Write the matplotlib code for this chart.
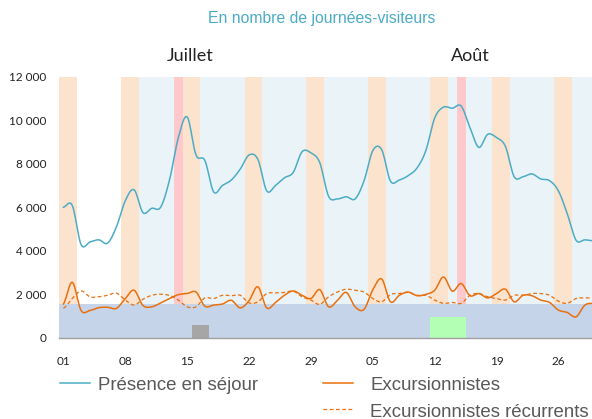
import numpy as np
import matplotlib
matplotlib.use("Agg")
import matplotlib.pyplot as plt
from matplotlib.lines import Line2D
import matplotlib.transforms as mtransforms

# Daily values, 1 July (index 0) -> 30 August 2023
presence = [6000, 6080, 4280, 4400, 4500, 4350, 5100, 6300, 6800, 5750,
            5950, 6000, 7250, 9200, 10150, 8400, 8150, 6700, 7000, 7250,
            7750, 8400, 8200, 6750, 7000, 7350, 7600, 8550, 8500, 8050,
            6500, 6380, 6480, 6380, 7200, 8600, 8650, 7200, 7250, 7450,
            7800, 8600, 10100, 10600, 10550, 10650, 9650, 8750, 9350, 9200,
            8800, 7400, 7400, 7530, 7300, 7220, 6750, 5700, 4480, 4500, 4450]
excursionnistes = [1550, 2550, 1250, 1250, 1380, 1400, 1350, 1800, 2180, 1480,
                   1420, 1600, 1800, 1980, 2030, 2100, 1450, 1500, 1550, 1720,
                   1370, 1700, 2340, 1370, 1620, 1950, 2150, 1950, 1800, 2210,
                   1420, 1720, 2080, 1420, 1300, 2200, 2700, 1650, 1950, 2100,
                   1930, 1990, 2180, 2790, 2140, 2490, 1930, 2030, 1830, 2030,
                   2230, 1650, 1950, 1930, 1730, 1620, 1270, 1160, 960, 1500, 1580]
recurrents = [1350, 1800, 2150, 1880, 1880, 1950, 2050, 1730, 1500, 1770,
              1950, 2000, 1940, 1730, 1420, 1420, 1830, 1800, 1950, 1930,
              1950, 1600, 1650, 2030, 2060, 2080, 2140, 1880, 1730, 1530,
              1880, 2100, 2230, 2180, 2100, 1800, 1650, 1990, 2030, 2080,
              1950, 1950, 1730, 1580, 1620, 1580, 1950, 2030, 1880, 1800,
              1730, 1950, 1950, 2030, 2030, 1950, 1680, 1580, 1800, 1830, 1830]

weekend_days = [0, 1, 7, 8, 14, 15, 21, 22, 28, 29, 35, 36, 42, 43, 49, 50, 56, 57]
holiday_days = [13, 45]           # 14 juillet, 15 août
school_start = 7                  # vacances scolaires from 8 July
capacity = 1570
gray_box = (15, 16, 570)          # first day, last day, height
green_box = (42, 45, 935)

tick_days = [0, 7, 14, 21, 28, 35, 42, 49, 56]
tick_labels = ["01", "08", "15", "22", "29", "05", "12", "19", "26"]

TEAL = "#4bacc6"
ORANGE = "#e8700f"


def catmull_rom(y, n=12):
    # smooth line like the office "smoothed line" option
    y = np.asarray(y, dtype=float)
    p = np.concatenate([[y[0]], y, [y[-1]]])
    xs, ys = [], []
    t = np.linspace(0, 1, n, endpoint=False)
    for i in range(len(y) - 1):
        p0, p1, p2, p3 = p[i], p[i + 1], p[i + 2], p[i + 3]
        seg = 0.5 * ((2 * p1) + (-p0 + p2) * t + (2 * p0 - 5 * p1 + 4 * p2 - p3) * t ** 2
                     + (-p0 + 3 * p1 - 3 * p2 + p3) * t ** 3)
        xs.append(i + t)
        ys.append(seg)
    xs.append([len(y) - 1])
    ys.append([y[-1]])
    return np.concatenate(xs), np.concatenate(ys)


fig = plt.figure(figsize=(5.92, 4.19), dpi=100)
ax = fig.add_axes([59 / 592, 81.3 / 419, 1 - 59 / 592, 261 / 419])

n_days = len(presence)
ax.axvspan(school_start - 0.5, n_days + 1, color="#eaf4f8", lw=0, zorder=0)
for d in weekend_days:
    ax.axvspan(d - 0.5, d + 0.5, color="#fce3cd", lw=0, zorder=0.5)
for d in holiday_days:
    ax.axvspan(d - 0.5, d + 0.5, color="#ffc8cb", lw=0, zorder=0.6)

ax.fill_between([-0.5, n_days + 1], 0, capacity, color="#c5d4e8", lw=0, zorder=1)
ax.bar((gray_box[0] + gray_box[1]) / 2, gray_box[2], width=gray_box[1] - gray_box[0] + 1,
       color="#a6a6a6", zorder=2)
ax.bar((green_box[0] + green_box[1]) / 2, green_box[2], width=green_box[1] - green_box[0] + 1,
       color="#b3ffb3", zorder=2)

x, y = catmull_rom(presence)
ax.plot(x, y, color=TEAL, lw=1.1, zorder=4)
x, y = catmull_rom(excursionnistes)
ax.plot(x, y, color=ORANGE, lw=1.1, zorder=4)
x, y = catmull_rom(recurrents)
ax.plot(x, y, color=ORANGE, lw=0.9, ls=(0, (3, 2)), zorder=3)

ax.set_xlim(-0.5, 59.8)
ax.set_ylim(0, 12000)
ax.set_yticks(range(0, 12001, 2000))
ax.set_yticklabels([f"{v:,}".replace(",", " ") for v in range(0, 12001, 2000)])
ax.set_xticks(tick_days)
ax.set_xticklabels(tick_labels)
ax.tick_params(length=0, labelsize=8.5, colors="#222222")
ax.tick_params(axis="x", pad=13)
ax.tick_params(axis="y", pad=9)
for lab in ax.get_xticklabels() + ax.get_yticklabels():
    lab.set_family("Lato")
for s in ["top", "right", "left"]:
    ax.spines[s].set_visible(False)
ax.spines["bottom"].set_color("#a0a0a0")
ax.spines["bottom"].set_linewidth(1.0)
ax.spines["bottom"].set_zorder(5)

# month labels
trans = mtransforms.blended_transform_factory(ax.transData, fig.transFigure)
ax.text(14.3, 1 - 61 / 419, "Juillet", transform=trans, ha="center", va="baseline",
        fontsize=13, family="Lato", color="#222222")
ax.text(46.0, 1 - 61 / 419, "Août", transform=trans, ha="center", va="baseline",
        fontsize=13, family="Lato", color="#222222")

fig.text(322 / 592, 1 - 23 / 419, "En nombre de journées-visiteurs", ha="center",
         va="baseline", fontsize=11.3, family="Liberation Sans", color=TEAL)

# legend drawn by hand
fig.add_artist(Line2D([60 / 592, 90 / 592], [1 - 383 / 419] * 2, color=TEAL, lw=1.1))
fig.text(98 / 592, 1 - 390 / 419, "Présence en séjour", fontsize=13.4,
         family="Liberation Sans", color="#595959", va="baseline")
fig.add_artist(Line2D([323 / 592, 353 / 592], [1 - 383 / 419] * 2, color=ORANGE, lw=1.1))
fig.text(370 / 592, 1 - 390 / 419, "Excursionnistes", fontsize=13.4,
         family="Liberation Sans", color="#595959", va="baseline")
fig.add_artist(Line2D([323 / 592, 353 / 592], [1 - 409 / 419] * 2, color=ORANGE, lw=0.9,
                      ls=(0, (3, 2))))
fig.text(370 / 592, 1 - 416.5 / 419, "Excursionnistes récurrents", fontsize=13.4,
         family="Liberation Sans", color="#595959", va="baseline")

fig.savefig("out.png", dpi=100)
